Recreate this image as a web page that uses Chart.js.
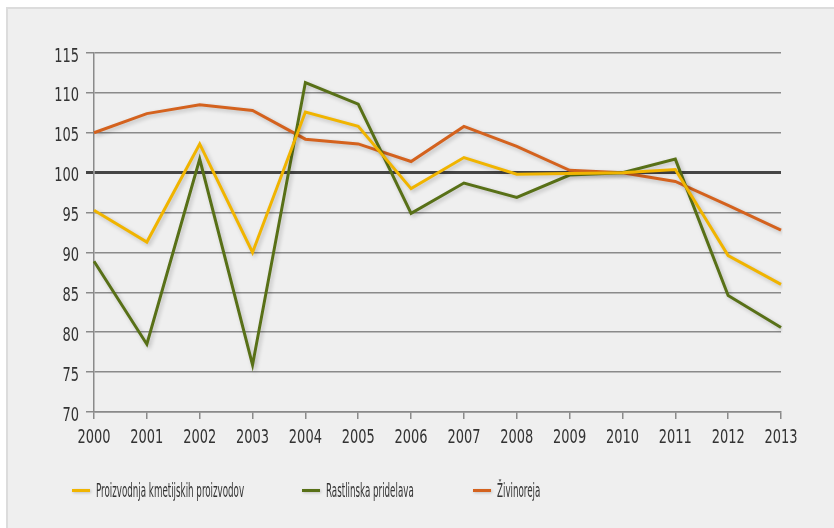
<!DOCTYPE html>
<html>
<head>
<meta charset="utf-8">
<script src="https://cdn.jsdelivr.net/npm/chart.js@4"></script>
<style>
  html, body { margin: 0; padding: 0; background: #ffffff; }
  #wrap { position: relative; width: 834px; height: 528px; overflow: hidden; }
  #panel {
    position: absolute; left: 6px; top: 7px; width: 840px; height: 540px;
    background: #efefef; border-left: 2px solid #dcdcdc; border-top: 2px solid #dcdcdc;
  }
  #chart { position: absolute; left: 0; top: 0; }
  .leg { position: absolute; top: 479px; height: 22px; font-family: "DejaVu Sans Condensed", "DejaVu Sans", sans-serif; font-size: 19px; color: #333333; white-space: nowrap; }
  .leg .sw { position: absolute; top: 10px; width: 18px; height: 3px; box-shadow: 1px 1px 3px rgba(0,0,0,0.2); }
  .leg .tx { position: absolute; left: 24px; top: 0; transform: scaleX(0.51); transform-origin: left top; }
</style>
</head>
<body>
<div id="wrap">
  <div id="panel"></div>
  <canvas id="chart" width="834" height="528"></canvas>
  <div id="legend"></div>
</div>
<script>
// Years on the x axis
const years = ['2000', '2001', '2002', '2003', '2004', '2005', '2006', '2007', '2008', '2009', '2010', '2011', '2012', '2013'];

// Series values (index, 2010 = 100)
const proizvodnja = [95.3, 91.3, 103.6, 90.0, 107.6, 105.8, 98.0, 101.9, 99.8, 99.9, 100.0, 100.4, 89.6, 86.0];
const rastlinska = [88.9, 78.5, 101.7, 75.9, 111.3, 108.6, 94.9, 98.7, 96.9, 99.7, 100.0, 101.7, 84.6, 80.6];
const zivinoreja = [105.0, 107.4, 108.5, 107.8, 104.2, 103.6, 101.4, 105.8, 103.3, 100.3, 100.0, 98.9, 95.9, 92.8];

const seriesNames = ['Proizvodnja kmetijskih proizvodov', 'Rastlinska pridelava', 'Živinoreja'];
const seriesColors = ['#f0b400', '#587017', '#d4621e'];
const legendLeft = [72, 302, 473];

const fontFamily = '"DejaVu Sans Condensed", "DejaVu Sans", sans-serif';

// Soft shadow under the lines
const shadowPlugin = {
    id: 'lineShadow',
    beforeDatasetsDraw(chart) {
        const ctx = chart.ctx;
        ctx.save();
        ctx.shadowColor = 'rgba(0, 0, 0, 0.22)';
        ctx.shadowBlur = 4;
        ctx.shadowOffsetX = 2;
        ctx.shadowOffsetY = 2;
    },
    afterDatasetsDraw(chart) {
        chart.ctx.restore();
    }
};

// Tick labels drawn narrow, like the condensed face of the original
const narrowTicks = {
    id: 'narrowTicks',
    afterDraw(chart) {
        const ctx = chart.ctx;
        ctx.save();
        ctx.font = '19px ' + fontFamily;
        ctx.fillStyle = '#333333';
        ctx.textBaseline = 'alphabetic';
        const xs = chart.scales.x;
        ctx.textAlign = 'center';
        xs.ticks.forEach((t, i) => {
            ctx.save();
            ctx.translate(xs.getPixelForTick(i), xs.bottom - xs.height + 31);
            ctx.scale(0.76, 1);
            ctx.fillText(t.label, 0, 0);
            ctx.restore();
        });
        const ys = chart.scales.y;
        ctx.textAlign = 'right';
        ys.ticks.forEach((t, i) => {
            ctx.save();
            ctx.translate(79, ys.getPixelForTick(i) + 8.5);
            ctx.scale(0.76, 1);
            ctx.fillText(t.label, 0, 0);
            ctx.restore();
        });
        ctx.restore();
    }
};

const dataSets = [proizvodnja, rastlinska, zivinoreja].map((values, i) => ({
    label: seriesNames[i],
    data: values,
    borderColor: seriesColors[i],
    backgroundColor: seriesColors[i],
    borderWidth: 3,
    pointRadius: 0,
    tension: 0,
    fill: false
}));

new Chart(document.getElementById('chart').getContext('2d'), {
    type: 'line',
    data: { labels: years, datasets: dataSets },
    options: {
        responsive: false,
        animation: false,
        layout: { padding: { left: 0, top: 53, right: 53, bottom: 0 } },
        plugins: {
            legend: { display: false },
            tooltip: { enabled: false }
        },
        scales: {
            x: {
                offset: false,
                afterFit(scale) { scale.height = 116; },
                grid: { drawOnChartArea: false, drawTicks: true, tickLength: 7, color: '#8a8a8a', lineWidth: 1.5 },
                border: { display: true, color: '#8a8a8a', width: 1.5 },
                ticks: { display: false, autoSkip: false }
            },
            y: {
                min: 70,
                max: 115,
                afterFit(scale) { scale.width = 94; },
                grid: {
                    tickLength: 8,
                    color: (c) => c.tick && c.tick.value === 100 ? '#454545' : '#8a8a8a',
                    lineWidth: (c) => c.tick && c.tick.value === 100 ? 3 : 1.5
                },
                border: { display: true, color: '#8a8a8a', width: 1.5 },
                ticks: { display: false, stepSize: 5 }
            }
        }
    },
    plugins: [shadowPlugin, narrowTicks]
});

// Legend under the chart
const legendEl = document.getElementById('legend');
seriesNames.forEach((name, i) => {
    const item = document.createElement('div');
    item.className = 'leg';
    item.style.left = legendLeft[i] + 'px';
    const sw = document.createElement('span');
    sw.className = 'sw';
    sw.style.background = seriesColors[i];
    const tx = document.createElement('span');
    tx.className = 'tx';
    tx.textContent = name;
    item.appendChild(sw);
    item.appendChild(tx);
    legendEl.appendChild(item);
});
</script>
</body>
</html>
